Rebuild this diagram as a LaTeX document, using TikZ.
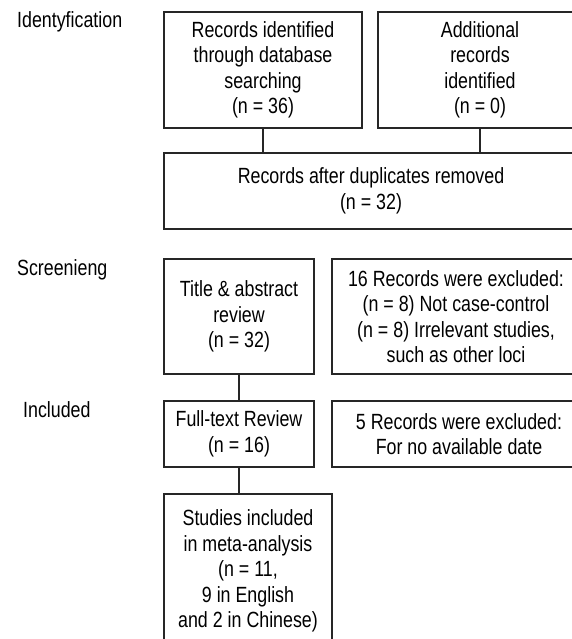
\documentclass[tikz,border=0pt]{standalone}
\usepackage{fontspec}
\setmainfont{Liberation Sans}[FakeStretch=0.81]
\usepackage{tikz}
\usetikzlibrary{calc}

\tikzset{
    box/.style={draw=black!85, line width=1.2pt, rectangle, inner sep=0pt, align=center},
    stage/.style={inner sep=0pt, anchor=base west},
    link/.style={draw=black!85, line width=1.2pt}
}

\begin{document}
\begin{tikzpicture}[x=1pt, y=-1pt, font=\fontsize{22}{25.5}\selectfont]
        \fill[white] (0,0) rectangle (572,639);
        \useasboundingbox (0,0) rectangle (572,639);
        % stage labels
        \node[stage] (lid) at (17,28) {Identyfication};
        \node[stage] (lscr) at (17,275) {Screenieng};
        \node[stage] (linc) at (23,417) {Included};
        % first row
        \node[box, minimum width=198pt, minimum height=116pt] (db) at (263,70)
            {Records identified\\through database\\searching\\(n = 36)};
        \node[box, minimum width=204pt, minimum height=116pt] (extra) at (480,70)
            {Additional\\records\\identified\\(n = 0)};
        \node[box, minimum width=414pt, minimum height=76pt] (dup) at (371,191)
            {Records after duplicates removed\\(n = 32)};
        % sec row
        \node[box, minimum width=150pt, minimum height=115pt] (title) at (239,316.5)
            {Title \& abstract\\review\\(n = 32)};
        \node[box, minimum width=248pt, minimum height=115pt] (excl1) at (456,316.5)
            {16 Records were excluded:\\(n = 8) Not case-control\\(n = 8) Irrelevant studies,\\such as other loci};
        % third row
        \node[box, minimum width=150pt, minimum height=66pt] (full) at (239,434)
            {Full-text Review\\(n = 16)};
        \node[box, minimum width=254pt, minimum height=66pt] (excl2) at (459,434)
            {5 Records were excluded:\\For no available date};
        \node[box, minimum width=168pt, minimum height=154pt] (incl) at (248,571)
            {Studies included\\in meta-analysis\\(n = 11,\\9 in English\\and 2 in Chinese)};

        \draw[link] (db.south) -- (db.south |- dup.north);
        \draw[link] (extra.south) -- (extra.south |- dup.north);
        \draw[link] (title.south) -- (full.north);
        \draw[link] (full.south) -- (full.south |- incl.north);
    \end{tikzpicture}
\end{document}
